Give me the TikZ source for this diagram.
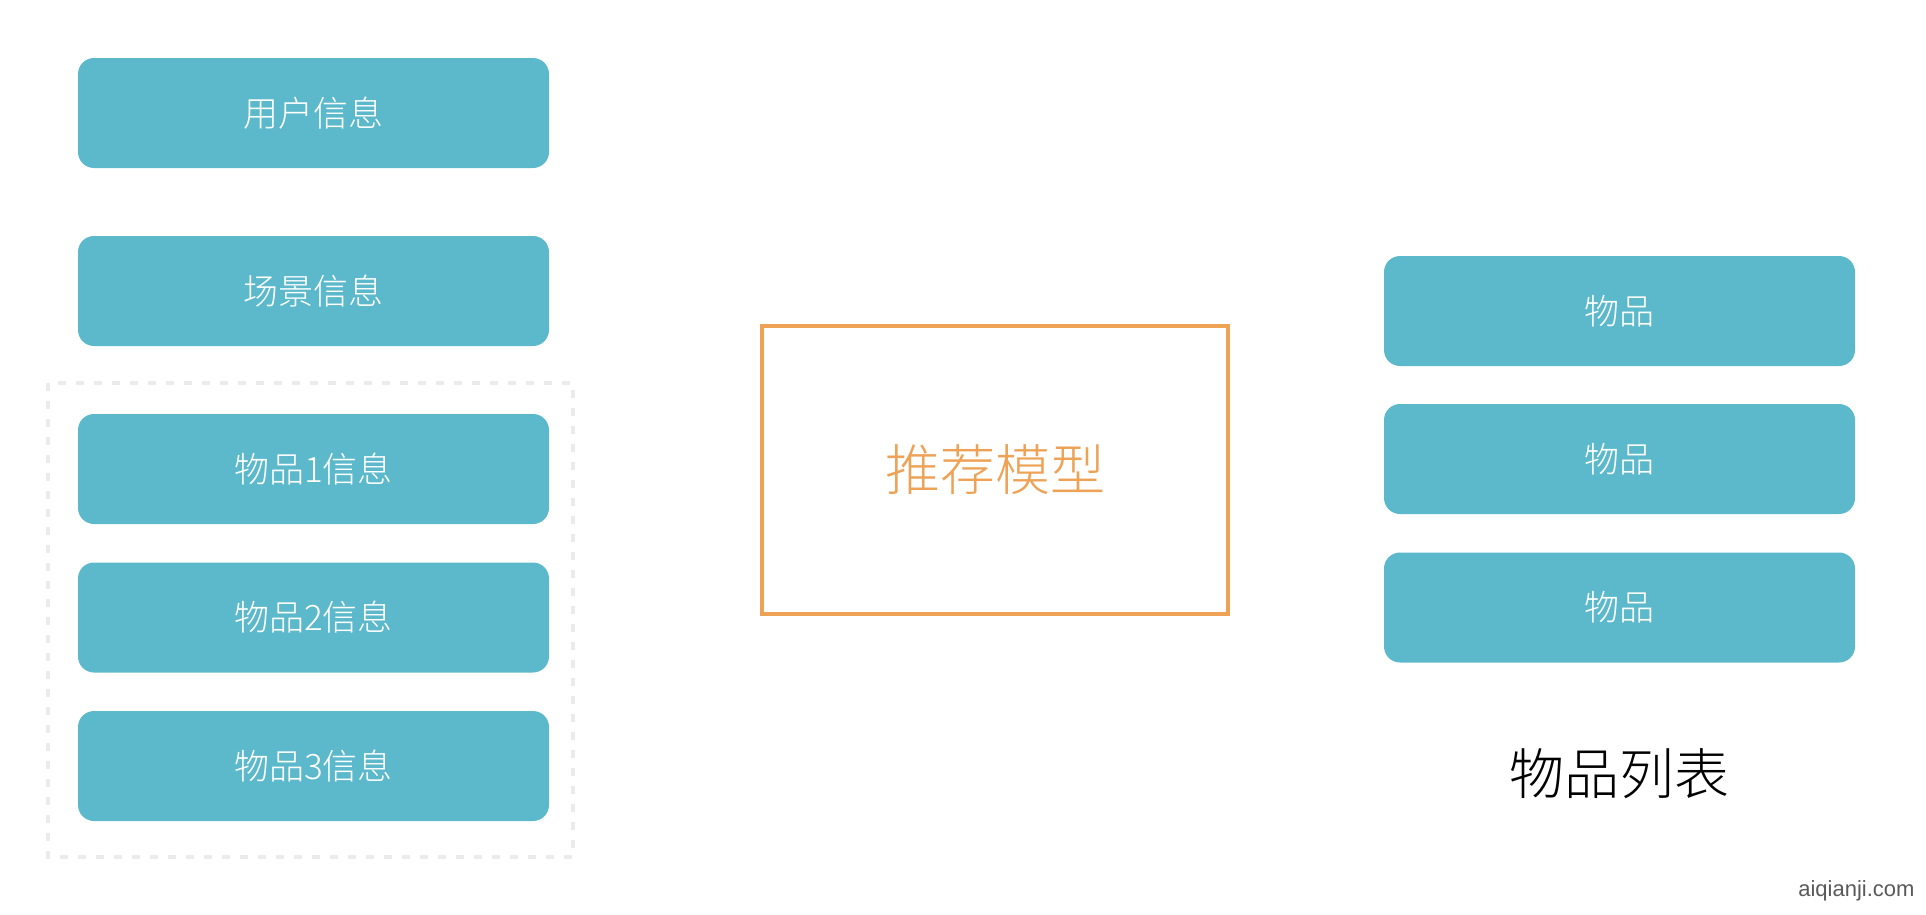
\documentclass[tikz,border=0pt]{standalone}
\usepackage{fontspec}
\setmainfont{Noto Sans CJK SC Light}
\newfontfamily\markfont{Liberation Sans}
\definecolor{infoblue}{HTML}{5CB9CC}
\definecolor{modelorange}{HTML}{EDA256}
\definecolor{groupgray}{HTML}{EBEBEB}

\begin{document}
\begin{tikzpicture}[x=1pt, y=-1pt,
    infobox/.style={fill=infoblue, rounded corners=16pt, minimum width=471pt, minimum height=110pt,
                    inner sep=0pt, text=white, font=\fontsize{35}{42}\selectfont},
    modelbox/.style={draw=modelorange, line width=4pt, minimum width=466pt, minimum height=288pt,
                     inner sep=0pt, text=modelorange, font=\fontsize{55}{66}\selectfont}]

                \useasboundingbox (0,0) rectangle (1926,914);

                % input side
                \draw[groupgray, line width=4pt, dash pattern=on 8pt off 10pt] (48,383) rectangle (573,857);

                \node[infobox] (user)  at (313.5,113)   {用户信息};
                \node[infobox] (scene) at (313.5,291)   {场景信息};
                \node[infobox] (item1) at (313.5,469)   {物品1信息};
                \node[infobox] (item2) at (313.5,617.5) {物品2信息};
                \node[infobox] (item3) at (313.5,766)   {物品3信息};

                % model
                \node[modelbox] (model) at (995,470) {推荐模型};

                % output side
                \node[infobox] (out1) at (1619.5,311)   {物品};
                \node[infobox] (out2) at (1619.5,459)   {物品};
                \node[infobox] (out3) at (1619.5,607.5) {物品};

                \node[font=\fontsize{55}{66}\selectfont] (list) at (1619.5,774) {物品列表};

                \node[anchor=east, text=black!65, font=\markfont\fontsize{22}{26}\selectfont] (mark) at (1918,891) {aiqianji.com};

            \end{tikzpicture}
\end{document}
